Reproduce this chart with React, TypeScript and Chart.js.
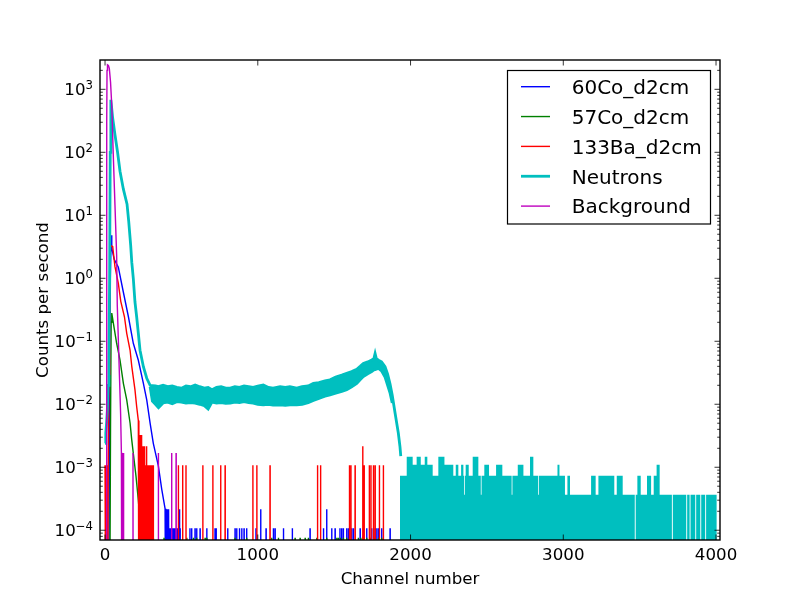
import React, { useEffect, useRef } from "react";
import { Chart, registerables } from "chart.js";

Chart.register(...registerables);

// zero counts are drawn at a floor below the axis, like a clipped log axis
const FLOOR = 1e-6;

const X_MIN = -33;
const X_MAX = 4026;
const Y_MIN = 7.06e-5;
const Y_MAX = 2920;

const xTicks = [0, 1000, 2000, 3000, 4000];
const xTickLabels = ["0", "1000", "2000", "3000", "4000"];
const yTickExponents = [-4, -3, -2, -1, 0, 1, 2, 3];

const seriesLabels = ["60Co_d2cm", "57Co_d2cm", "133Ba_d2cm", "Neutrons", "Background"];
const seriesColors = ["#0000ff", "#008000", "#ff0000", "#00bfbf", "#bf00bf"];
const seriesWidths = [1.4, 1.4, 1.4, 2.8, 1.4];

// value of one count (counts per second)
const unitCo60 = 1.08e-4;
const unitCo57 = 7.6e-5;
const unitBa133 = 1.08e-3;
const unitNeutrons = 3.66e-4;
const unitBackground = 1.68e-3;

// ---- 60Co_d2cm ----
const co60Ch = [24, 30, 35, 40, 44, 60, 87, 120, 153, 185, 218, 251, 273, 295, 316, 349, 371, 393];
const co60Val = [FLOOR, 0.02, 1.0, 4.8, 3.0, 2.0, 1.5, 0.6, 0.245, 0.093, 0.05, 0.0215, 0.0117, 0.005, 0.0024, 0.00105, 0.00045, 0.00022];
const co60Spikes = [
  [398, 2], [402, 1], [406, 2], [410, 2], [414, 1], [418, 2], [422, 1], [426, 1], [431, 1], [436, 1],
  [441, 1], [447, 1], [453, 1], [458, 1], [464, 1], [470, 1], [476, 1], [485, 2], [491, 1], [556, 1],
  [567, 1], [589, 1], [600, 1], [622, 1], [666, 1], [720, 1], [727, 1], [803, 1], [851, 1], [862, 1],
  [880, 1], [895, 1], [910, 1], [927, 1], [988, 1], [1019, 2], [1054, 1], [1102, 1], [1113, 1], [1168, 1],
  [1226, 1], [1342, 1], [1430, 1], [1451, 2], [1484, 1], [1506, 1], [1538, 1], [1549, 1], [1560, 1], [1582, 1],
  [1593, 1], [1615, 1], [1626, 1], [1670, 1], [1691, 1], [1713, 1], [1746, 1], [1768, 1], [1779, 1], [1790, 1],
  [1811, 1], [1866, 1],
];

// ---- 57Co_d2cm ----
const co57Ch = [30, 36, 40, 44, 60, 76, 98, 120, 142, 164, 175, 185, 203, 218, 229, 234];
const co57Val = [FLOOR, 0.005, 0.2, 0.28, 0.16, 0.093, 0.05, 0.0215, 0.0117, 0.005, 0.0027, 0.00167, 0.00071, 0.0003, 0.00014, FLOOR];
const co57Spikes = [
  [240, 1], [246, 1], [252, 1], [258, 1], [316, 1], [386, 1], [535, 1], [578, 1], [600, 1], [655, 1],
  [666, 1], [851, 1], [927, 1], [1091, 1], [1135, 1], [1244, 1], [1277, 1], [1310, 1], [1331, 1], [1386, 1],
  [1451, 1], [1517, 1], [1527, 1], [1540, 1], [1560, 1], [1582, 1], [1658, 1], [1675, 1], [1691, 1], [1713, 1],
  [1735, 1], [1768, 1], [1790, 1], [1811, 1],
];

// ---- 133Ba_d2cm ----
const ba133Ch = [0, 3, 6, 10, 13, 17, 21, 26, 31, 36, 50, 65, 87, 103, 127, 142, 164, 175, 196, 207, 218];
const ba133Val = [1.08e-3, FLOOR, 1.08e-3, FLOOR, 1.08e-3, FLOOR, 1.08e-3, 0.03, 1.0, 3.3, 3.2, 1.53, 0.83, 0.43, 0.245, 0.134, 0.072, 0.04, 0.0169, 0.0092, 0.0055];
const ba133Spikes = [
  [222, 4], [226, 3], [230, 3], [234, 2], [238, 3], [242, 2], [246, 2], [250, 1], [253, 2], [257, 1],
  [261, 2], [265, 1], [269, 1], [273, 2], [277, 1], [281, 1], [286, 1], [291, 1], [296, 1], [302, 1],
  [309, 1], [316, 1], [480, 1], [508, 1], [530, 1], [640, 1], [706, 1], [757, 1], [786, 1], [968, 1],
  [994, 1], [1080, 1], [1391, 1], [1411, 1], [1600, 1], [1610, 1], [1637, 1], [1687, 2], [1696, 1], [1730, 1],
  [1741, 1], [1757, 1], [1768, 1], [1796, 1], [1822, 1],
];

// ---- Neutrons ----
const nCh = [0, 5, 10, 15, 20, 25, 30, 34, 37, 39, 50, 65, 82, 98, 120, 144, 155, 168, 175, 185, 196, 207, 218, 229, 251, 273, 295];
const nVal = [2.4e-3, 3.5e-3, 5e-3, 8e-3, 0.02, 0.05, 1.0, 100, 500, 680, 350, 190, 100, 50, 26, 15, 8, 3.3, 1.8, 1.0, 0.42, 0.245, 0.134, 0.072, 0.0395, 0.0259, 0.02];
// noisy plateau: upper and lower edge of the band
const bandCh = [
  295, 310, 330, 350, 380, 410, 440, 470, 500, 530, 560, 590, 620, 650, 675, 700, 730, 760, 790, 820, 850,
  880, 910, 940, 970, 1000, 1036, 1070, 1100, 1146, 1180, 1210, 1255, 1290, 1330, 1364, 1400, 1440, 1473, 1510, 1550,
  1582, 1615, 1648, 1670, 1691, 1720, 1746, 1760, 1768, 1776, 1790, 1810, 1833, 1850, 1866, 1880,
];
const bandHi = [
  0.02, 0.0198, 0.0195, 0.019, 0.02, 0.019, 0.0195, 0.0185, 0.018, 0.0195, 0.019, 0.0202, 0.019, 0.018, 0.0185, 0.017, 0.0185, 0.019, 0.018, 0.018, 0.019,
  0.0185, 0.0195, 0.019, 0.0185, 0.0195, 0.0202, 0.0185, 0.018, 0.019, 0.0185, 0.019, 0.018, 0.019, 0.0195, 0.0215, 0.022, 0.0235, 0.0245, 0.027, 0.029,
  0.031, 0.033, 0.036, 0.04, 0.0445, 0.047, 0.0505, 0.053, 0.064, 0.053, 0.05, 0.047, 0.0395, 0.03, 0.021, 0.014,
];
const bandLo = [
  0.019, 0.0112, 0.01, 0.0088, 0.0105, 0.0108, 0.0102, 0.011, 0.0108, 0.0104, 0.0106, 0.0104, 0.01, 0.0095, 0.0084, 0.0108, 0.0104, 0.0106, 0.0103, 0.0104, 0.0108,
  0.0106, 0.011, 0.0106, 0.0104, 0.01, 0.0098, 0.01, 0.0097, 0.0098, 0.0096, 0.0098, 0.0098, 0.01, 0.0106, 0.0115, 0.0124, 0.0134, 0.0141, 0.015, 0.016,
  0.017, 0.019, 0.0215, 0.0245, 0.0275, 0.0305, 0.033, 0.035, 0.0355, 0.036, 0.037, 0.034, 0.027, 0.02, 0.015, 0.0105,
];
const nFallCh = [1899, 1920, 1931, 1936];
const nFallVal = [0.0072, 0.0035, 0.0021, 0.0015];
// flat tail: [first channel, counts], each level holds until the next entry
const nTailSteps = [
  [1931, 2], [1975, 4], [2014, 3], [2040, 4], [2067, 3], [2093, 4], [2110, 3], [2145, 2], [2182, 4], [2222, 3],
  [2280, 2], [2296, 3], [2313, 2], [2331, 3], [2346, 2], [2350, 1], [2355, 2], [2361, 3], [2381, 2], [2407, 4],
  [2444, 2], [2460, 1], [2465, 2], [2483, 3], [2514, 2], [2560, 3], [2601, 2], [2662, 1], [2667, 2], [2702, 3],
  [2739, 2], [2782, 4], [2804, 2], [2836, 1], [2841, 2], [2962, 3], [2975, 2], [3011, 1], [3027, 2], [3044, 1],
  [3182, 2], [3212, 1], [3230, 2], [3334, 1], [3350, 2], [3389, 1], [3468, 0], [3474, 1], [3485, 2], [3507, 1],
  [3548, 2], [3575, 1], [3592, 2], [3611, 3], [3631, 1], [3711, 0], [3717, 1], [3805, 0], [3811, 1], [3827, 0],
  [3833, 1], [3864, 0], [3870, 1], [3897, 0], [3903, 1], [3929, 0], [3935, 1], [4005, 0],
];

// ---- Background ----
const bgCh = [9, 11, 13, 16, 22, 28, 36, 44, 54, 65, 76, 80, 88, 95, 102, 107, 109];
const bgVal = [FLOOR, 300, 2000, 2450, 2400, 2150, 1300, 560, 90, 14.5, 2.3, 0.38, 0.09, 0.025, 0.007, 0.0017, FLOOR];
const bgSpikes = [[112, 1], [116, 1], [121, 1], [183, 1], [349, 1], [436, 1], [465, 1]];

type P = { x: number; y: number };
const curve = (ch: number[], v: number[]): P[] => ch.map((c, i) => ({ x: c, y: v[i] }));
const spikes = (list: number[][], unit: number): P[] =>
  list.flatMap(([c, n]) => [
    { x: c - 1, y: FLOOR },
    { x: c, y: n * unit },
    { x: c + 1, y: FLOOR },
  ]);
const merge = (...parts: P[][]): P[] => parts.flat().sort((a, b) => a.x - b.x);

const FONT = '"DejaVu Sans", "Liberation Sans", sans-serif';

const decorPlugin = {
  id: "decor",
  afterDraw(chart: any) {
    const { ctx, chartArea: a, scales } = chart;
    const xs = scales.x;
    const ys = scales.y;
    ctx.save();
    ctx.strokeStyle = "#000";
    ctx.fillStyle = "#000";

    // ticks (inward, all four sides)
    ctx.lineWidth = 0.8;
    ctx.beginPath();
    xTicks.forEach((v) => {
      const px = xs.getPixelForValue(v);
      ctx.moveTo(px, a.bottom);
      ctx.lineTo(px, a.bottom - 5.5);
      ctx.moveTo(px, a.top);
      ctx.lineTo(px, a.top + 5.5);
    });
    for (let e = -5; e <= 3; e++) {
      for (let k = 1; k <= 9; k++) {
        const v = k * Math.pow(10, e);
        if (v < Y_MIN || v > Y_MAX) continue;
        const len = k === 1 ? 5.5 : 2.8;
        const py = ys.getPixelForValue(v);
        ctx.moveTo(a.left, py);
        ctx.lineTo(a.left + len, py);
        ctx.moveTo(a.right, py);
        ctx.lineTo(a.right - len, py);
      }
    }
    ctx.stroke();

    // frame
    ctx.lineWidth = 1.4;
    ctx.strokeRect(a.left, a.top, a.right - a.left, a.bottom - a.top);

    // x tick labels
    ctx.font = `16.67px ${FONT}`;
    ctx.textAlign = "center";
    ctx.textBaseline = "alphabetic";
    xTicks.forEach((v, i) => {
      ctx.fillText(xTickLabels[i], xs.getPixelForValue(v), 560);
    });

    // y tick labels: 10 with superscript exponent
    yTickExponents.forEach((e) => {
      const py = ys.getPixelForValue(Math.pow(10, e));
      const exp = e < 0 ? "\u2212" + String(-e) : String(e);
      const right = a.left - 7;
      ctx.textAlign = "right";
      ctx.font = `11.7px ${FONT}`;
      const ew = ctx.measureText(exp).width;
      ctx.fillText(exp, right, py - 0.5);
      ctx.font = `16.67px ${FONT}`;
      ctx.fillText("10", right - ew, py + 5.8);
    });

    // axis titles
    ctx.font = `16.67px ${FONT}`;
    ctx.textAlign = "center";
    ctx.fillText("Channel number", (a.left + a.right) / 2, 584);
    ctx.save();
    ctx.translate(48, (a.top + a.bottom) / 2);
    ctx.rotate(-Math.PI / 2);
    ctx.fillText("Counts per second", 0, 0);
    ctx.restore();

    // legend
    const bx = 507.5;
    const by = 70.5;
    const bw = 203;
    const bh = 153.5;
    ctx.fillStyle = "#fff";
    ctx.fillRect(bx, by, bw, bh);
    ctx.lineWidth = 1.2;
    ctx.strokeStyle = "#000";
    ctx.strokeRect(bx, by, bw, bh);
    ctx.font = `20px ${FONT}`;
    ctx.textAlign = "left";
    seriesLabels.forEach((label, i) => {
      const ry = 86.7 + i * 29.85;
      ctx.strokeStyle = seriesColors[i];
      ctx.lineWidth = seriesWidths[i];
      ctx.beginPath();
      ctx.moveTo(521, ry);
      ctx.lineTo(550, ry);
      ctx.stroke();
      ctx.fillStyle = "#000";
      ctx.fillText(label, 571.7, ry + 7.3);
    });
    ctx.restore();
  },
};

export default function App() {
  const ref = useRef<HTMLCanvasElement>(null);

  useEffect(() => {
    document.body.style.margin = "0";
    const canvas = ref.current;
    if (!canvas) return;

    const co60Data = merge(curve(co60Ch, co60Val), spikes(co60Spikes, unitCo60));
    const co57Data = merge(curve(co57Ch, co57Val), spikes(co57Spikes, unitCo57));
    const ba133Data = merge(curve(ba133Ch, ba133Val), spikes(ba133Spikes, unitBa133));
    const neutronData = merge(curve(nCh.slice(0, -1), nVal.slice(0, -1)), curve(bandCh, bandHi), curve(nFallCh, nFallVal));
    const bandHiData = curve(bandCh, bandHi);
    const bandLoData = curve(bandCh, bandLo);
    const tailData = nTailSteps.map(([c, n]) => ({ x: c, y: n > 0 ? n * unitNeutrons : FLOOR }));
    const bgData = merge(curve(bgCh, bgVal), spikes(bgSpikes, unitBackground));

    const base = { pointRadius: 0, tension: 0, fill: false, clip: 0 };
    const teal = seriesColors[3];

    const chart = new Chart(canvas, {
      type: "line",
      data: {
        datasets: [
          { ...base, label: seriesLabels[0], data: co60Data, borderColor: seriesColors[0], borderWidth: seriesWidths[0], order: 50 },
          { ...base, label: seriesLabels[1], data: co57Data, borderColor: seriesColors[1], borderWidth: seriesWidths[1], order: 40 },
          { ...base, label: seriesLabels[2], data: ba133Data, borderColor: seriesColors[2], borderWidth: seriesWidths[2], order: 30 },
          { ...base, label: seriesLabels[3], data: neutronData, borderColor: teal, borderWidth: seriesWidths[3], order: 20 },
          { ...base, label: "bandHi", data: bandHiData, borderColor: "rgba(0,0,0,0)", borderWidth: 0, order: 21 },
          {
            ...base,
            label: "bandLo",
            data: bandLoData,
            borderColor: teal,
            borderWidth: seriesWidths[3],
            fill: "-1",
            backgroundColor: teal,
            order: 21,
          },
          {
            ...base,
            label: "tail",
            data: tailData,
            stepped: true,
            borderColor: "rgba(0,0,0,0)",
            borderWidth: 0,
            fill: "start",
            backgroundColor: teal,
            order: 22,
          },
          { ...base, label: seriesLabels[4], data: bgData, borderColor: seriesColors[4], borderWidth: seriesWidths[4], order: 10 },
        ],
      },
      options: {
        animation: false,
        responsive: false,
        events: [],
        layout: { padding: { left: 100, right: 80, top: 60, bottom: 60 } },
        plugins: { legend: { display: false }, tooltip: { enabled: false } },
        scales: {
          x: { type: "linear", min: X_MIN, max: X_MAX, display: false },
          y: { type: "logarithmic", min: Y_MIN, max: Y_MAX, display: false },
        },
      },
      plugins: [decorPlugin],
    } as any);

    return () => chart.destroy();
  }, []);

  return <canvas ref={ref} width={800} height={600} style={{ display: "block", width: 800, height: 600 }} />;
}
